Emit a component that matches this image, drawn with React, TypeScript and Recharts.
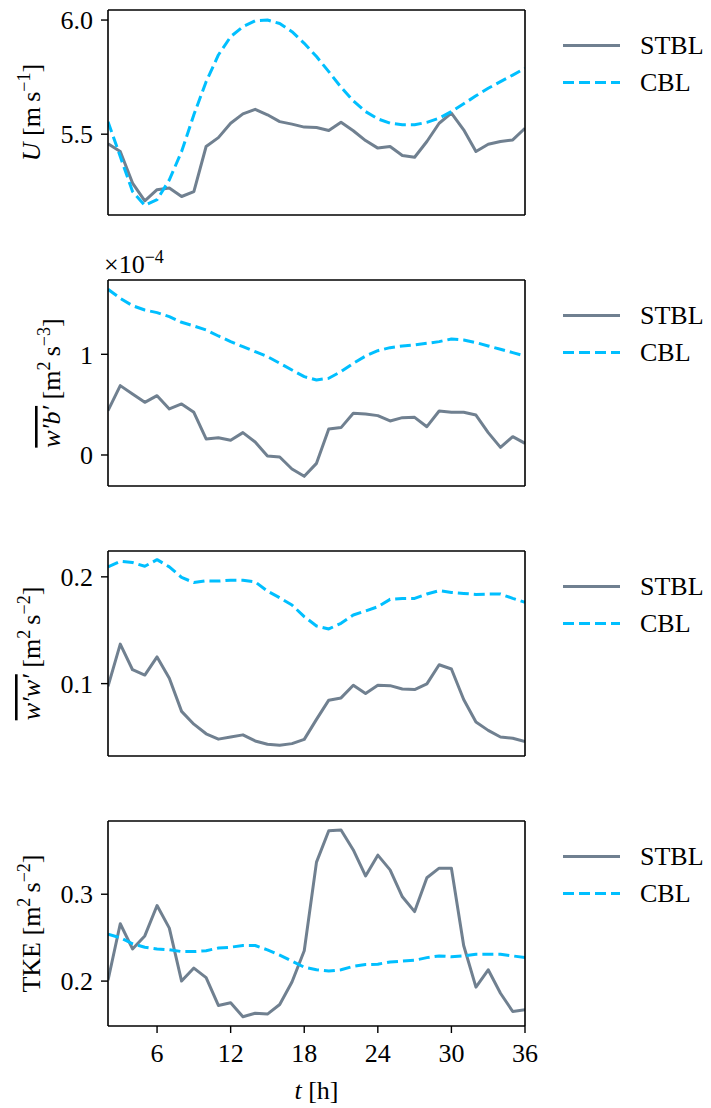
import React from 'react';
import { LineChart, Line, XAxis, YAxis, Legend } from 'recharts';

const HOURS = [2, 3, 4, 5, 6, 7, 8, 9, 10, 11, 12, 13, 14, 15, 16, 17, 18, 19, 20, 21, 22, 23, 24, 25, 26, 27, 28, 29, 30, 31, 32, 33, 34, 35, 36];
const X_TICKS = [6, 12, 18, 24, 30, 36];

const U_STBL = [5.458, 5.424, 5.286, 5.208, 5.257, 5.264, 5.227, 5.248, 5.446, 5.485, 5.548, 5.589, 5.609, 5.585, 5.555, 5.544, 5.531, 5.529, 5.516, 5.552, 5.515, 5.472, 5.439, 5.446, 5.407, 5.399, 5.468, 5.548, 5.592, 5.519, 5.424, 5.456, 5.468, 5.475, 5.526];
const U_CBL = [5.555, 5.402, 5.249, 5.188, 5.213, 5.3, 5.424, 5.585, 5.73, 5.847, 5.927, 5.971, 5.997, 6.0, 5.985, 5.949, 5.898, 5.84, 5.774, 5.706, 5.646, 5.599, 5.567, 5.548, 5.541, 5.541, 5.552, 5.57, 5.599, 5.633, 5.668, 5.701, 5.73, 5.759, 5.789];
const U_TICKS = [5.5, 6.0];

// w'b' in units of 1e-4 m^2 s^-3
const WB_STBL = [0.44, 0.689, 0.606, 0.523, 0.589, 0.457, 0.507, 0.424, 0.159, 0.172, 0.146, 0.222, 0.129, -0.01, -0.02, -0.139, -0.212, -0.083, 0.258, 0.272, 0.414, 0.407, 0.391, 0.338, 0.371, 0.374, 0.281, 0.437, 0.424, 0.424, 0.397, 0.222, 0.076, 0.182, 0.116];
const WB_CBL = [1.646, 1.556, 1.483, 1.44, 1.414, 1.374, 1.318, 1.281, 1.242, 1.182, 1.126, 1.076, 1.026, 0.977, 0.911, 0.844, 0.778, 0.745, 0.762, 0.828, 0.911, 0.983, 1.036, 1.066, 1.083, 1.093, 1.109, 1.126, 1.152, 1.142, 1.116, 1.083, 1.05, 1.017, 0.983];
const WB_TICKS = [0, 1];

const WW_STBL = [0.0975, 0.137, 0.113, 0.108, 0.125, 0.105, 0.074, 0.062, 0.053, 0.048, 0.05, 0.052, 0.0463, 0.0432, 0.0422, 0.0438, 0.0478, 0.0665, 0.0845, 0.0866, 0.0984, 0.0907, 0.0984, 0.0981, 0.095, 0.0944, 0.0997, 0.1177, 0.1137, 0.0851, 0.064, 0.0562, 0.05, 0.0488, 0.0457];
const WW_CBL = [0.2093, 0.2146, 0.2134, 0.2099, 0.2161, 0.2093, 0.1994, 0.1947, 0.1963, 0.196, 0.1969, 0.1969, 0.1953, 0.1866, 0.1804, 0.1736, 0.1627, 0.154, 0.1512, 0.1565, 0.1643, 0.168, 0.172, 0.1789, 0.1798, 0.1798, 0.1839, 0.187, 0.1854, 0.1845, 0.1835, 0.1839, 0.1839, 0.1798, 0.1761];
const WW_TICKS = [0.1, 0.2];

const TKE_STBL = [0.201, 0.266, 0.237, 0.252, 0.287, 0.261, 0.2, 0.215, 0.204, 0.172, 0.175, 0.159, 0.163, 0.162, 0.173, 0.199, 0.235, 0.337, 0.373, 0.374, 0.351, 0.321, 0.345, 0.328, 0.297, 0.28, 0.319, 0.33, 0.33, 0.241, 0.193, 0.213, 0.186, 0.165, 0.167];
const TKE_CBL = [0.254, 0.25, 0.243, 0.239, 0.237, 0.236, 0.234, 0.234, 0.235, 0.238, 0.239, 0.241, 0.241, 0.236, 0.23, 0.223, 0.216, 0.213, 0.2115, 0.213, 0.217, 0.219, 0.2195, 0.222, 0.223, 0.224, 0.227, 0.229, 0.228, 0.229, 0.231, 0.231, 0.231, 0.229, 0.227];
const TKE_TICKS = [0.2, 0.3];

const SERIES_NAMES = ['STBL', 'CBL'];
const STBL_COLOR = '#708090';
const CBL_COLOR = '#00BFFF';
const DASH = '11 5';
const FONT = "'Liberation Serif', 'DejaVu Serif', serif";
const FS = 26;
const SUP = 18;
const SUPDY = 10;

const W = 711;
const MT = 40;
const Y_AXIS_W = 108;
const PLOT_W = 417;
const MR = W - Y_AXIS_W - PLOT_W;
const FRAME = { stroke: '#000', strokeWidth: 1.6 };

const build = (a: number[], b: number[]) => HOURS.map((t, i) => ({ t, stbl: a[i], cbl: b[i] }));

const renderLegend = () => (
  <div style={{ fontFamily: FONT, fontSize: FS, color: '#000' }}>
    {SERIES_NAMES.map((name, i) => (
      <div key={name} style={{ display: 'flex', alignItems: 'center', height: 37 }}>
        <svg width={85} height={37} style={{ display: 'block' }}>
          <line x1={8} x2={65} y1={18.5} y2={18.5} stroke={i === 0 ? STBL_COLOR : CBL_COLOR} strokeWidth={3}
            strokeDasharray={i === 0 ? undefined : DASH} />
        </svg>
        <span style={{ lineHeight: '37px' }}>{name}</span>
      </div>
    ))}
  </div>
);

type PanelProps = {
  top: number;
  plotH: number;
  data: any[];
  domain: [number, number];
  ticks: number[];
  fmt: (v: number) => string;
  yLabel: (cy: number) => React.ReactNode;
  showX?: boolean;
  extra?: React.ReactNode;
};

const Panel = ({ top, plotH, data, domain, ticks, fmt, yLabel, showX, extra }: PanelProps) => {
  const xAxisH = showX ? 85 : 1;
  const h = MT + plotH + xAxisH;
  const cy = MT + plotH / 2;
  return (
    <div style={{ position: 'absolute', left: 0, top: top - MT, width: W, height: h }}>
      <LineChart width={W} height={h} data={data} margin={{ top: MT - 1, right: MR - 1, bottom: 0, left: 0 }}>
        <XAxis dataKey="t" type="number" domain={[2, 36]} ticks={X_TICKS} allowDataOverflow
          height={xAxisH} axisLine={FRAME}
          tick={showX ? { fill: '#000', fontSize: FS, fontFamily: FONT } : false}
          tickLine={showX ? { stroke: '#000', strokeWidth: 1.4 } : false}
          tickSize={7} tickMargin={11}
          label={showX ? () => (
            <text x={Y_AXIS_W + PLOT_W / 2} y={MT + plotH + 73} textAnchor="middle" fontFamily={FONT} fontSize={FS} fill="#000">
              <tspan fontStyle="italic">t</tspan> [h]
            </text>
          ) : undefined} />
        <XAxis xAxisId="top" orientation="top" type="number" domain={[2, 36]} height={1} tick={false} tickLine={false}
          axisLine={FRAME} />
        <YAxis type="number" domain={domain} ticks={ticks} allowDataOverflow width={Y_AXIS_W}
          tickFormatter={fmt} axisLine={FRAME}
          tick={{ fill: '#000', fontSize: FS, fontFamily: FONT }} tickLine={{ stroke: '#000', strokeWidth: 1.4 }}
          tickSize={7} tickMargin={8}
          label={() => <g>{yLabel(cy)}{extra}</g>} />
        <YAxis yAxisId="right" orientation="right" type="number" domain={domain} width={1} tick={false} tickLine={false}
          axisLine={FRAME} />
        <Legend content={renderLegend} layout="horizontal" verticalAlign="middle" align="center"
          wrapperStyle={{ position: 'absolute', left: 555, top: MT + 35 - 18.5, width: 156, height: 74 }} />
        <Line type="linear" dataKey="stbl" name="STBL" stroke={STBL_COLOR} strokeWidth={3} dot={false}
          strokeLinejoin="round" isAnimationActive={false} />
        <Line type="linear" dataKey="cbl" name="CBL" stroke={CBL_COLOR} strokeWidth={3} dot={false}
          strokeDasharray={DASH} strokeLinejoin="round" isAnimationActive={false} />
      </LineChart>
    </div>
  );
};

const rot = (x: number, cy: number, children: React.ReactNode) => (
  <text x={x} y={cy} transform={`rotate(-90, ${x}, ${cy})`} textAnchor="middle" fontFamily={FONT} fontSize={FS} fill="#000">
    {children}
  </text>
);

const uLabel = (cy: number) => rot(40, cy, <>
  <tspan fontStyle="italic">U</tspan>
  <tspan> [m{'\u2009'}s</tspan>
  <tspan dy={-SUPDY} fontSize={SUP}>{'\u22121'}</tspan>
  <tspan dy={SUPDY}>]</tspan>
</>);

const wbLabel = (cy: number) => rot(60, cy, <>
  <tspan fontStyle="italic" style={{ textDecoration: 'overline' }}>{'w\u2032b\u2032'}</tspan>
  <tspan> [m</tspan>
  <tspan dy={-SUPDY} fontSize={SUP}>2</tspan>
  <tspan dy={SUPDY}>{'\u2009'}s</tspan>
  <tspan dy={-SUPDY} fontSize={SUP}>{'\u22123'}</tspan>
  <tspan dy={SUPDY}>]</tspan>
</>);

const wwLabel = (cy: number) => rot(40, cy, <>
  <tspan fontStyle="italic" style={{ textDecoration: 'overline' }}>{'w\u2032w\u2032'}</tspan>
  <tspan> [m</tspan>
  <tspan dy={-SUPDY} fontSize={SUP}>2</tspan>
  <tspan dy={SUPDY}>{'\u2009'}s</tspan>
  <tspan dy={-SUPDY} fontSize={SUP}>{'\u22122'}</tspan>
  <tspan dy={SUPDY}>]</tspan>
</>);

const tkeLabel = (cy: number) => rot(40, cy, <>
  <tspan>TKE [m</tspan>
  <tspan dy={-SUPDY} fontSize={SUP}>2</tspan>
  <tspan dy={SUPDY}>{'\u2009'}s</tspan>
  <tspan dy={-SUPDY} fontSize={SUP}>{'\u22122'}</tspan>
  <tspan dy={SUPDY}>]</tspan>
</>);

const wbOffset = (
  <text x={104} y={MT - 7} fontFamily={FONT} fontSize={FS} fill="#000">
    <tspan>{'\u00d710'}</tspan>
    <tspan dy={-SUPDY} fontSize={SUP}>{'\u22124'}</tspan>
  </text>
);

export default function App() {
  return (
    <div style={{ position: 'absolute', left: 0, top: 0, width: W, height: 1108, background: '#fff', overflow: 'hidden' }}>
      <Panel top={10} plotH={205} data={build(U_STBL, U_CBL)} domain={[5.146, 6.044]} ticks={U_TICKS}
        fmt={(v) => v.toFixed(1)} yLabel={uLabel} />
      <Panel top={280} plotH={206} data={build(WB_STBL, WB_CBL)} domain={[-0.308, 1.738]} ticks={WB_TICKS}
        fmt={(v) => String(Math.round(v))} yLabel={wbLabel} extra={wbOffset} />
      <Panel top={551} plotH={205} data={build(WW_STBL, WW_CBL)} domain={[0.0322, 0.2242]} ticks={WW_TICKS}
        fmt={(v) => v.toFixed(1)} yLabel={wwLabel} />
      <Panel top={821} plotH={205} data={build(TKE_STBL, TKE_CBL)} domain={[0.1483, 0.3843]} ticks={TKE_TICKS}
        fmt={(v) => v.toFixed(1)} yLabel={tkeLabel} showX />
    </div>
  );
}
